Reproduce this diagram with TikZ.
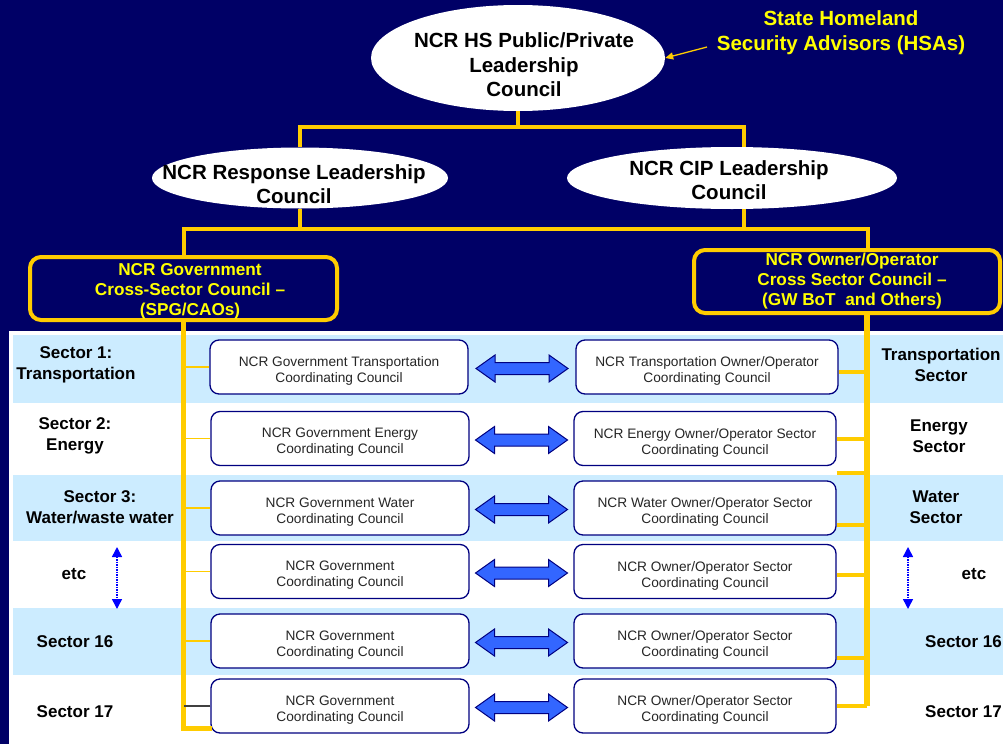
\documentclass[tikz,border=0pt]{standalone}
\usepackage{fontspec}
\setmainfont{Liberation Sans}
\usetikzlibrary{shapes.geometric,arrows.meta,calc}

\definecolor{navybg}{RGB}{0,0,102}
\definecolor{gold}{RGB}{255,204,0}
\definecolor{yell}{RGB}{255,255,0}
\definecolor{bandblue}{RGB}{204,236,255}
\definecolor{boxline}{RGB}{0,0,128}
\definecolor{arrowblue}{RGB}{51,102,255}

\tikzset{
  council/.style={ellipse, fill=white, draw=none, inner sep=0},
  counciltext/.style={align=center, inner sep=0, font=\bfseries\fontsize{20.5}{24.5}\selectfont},
  hsatext/.style={align=center, inner sep=0, text=yell, font=\bfseries\fontsize{20.5}{25}\selectfont},
  cross/.style={draw=gold, line width=4, rounded corners=11, fill=navybg, inner sep=0},
  crosstext/.style={text=yell, align=center, inner sep=0,
    font=\bfseries\fontsize{17.2}{20}\selectfont},
  cc/.style={draw=boxline, line width=1.3, fill=white, rounded corners=9,
    inner sep=0, minimum height=54},
  cctext/.style={align=center, inner sep=0, yshift=-4pt, text=black!85,
    font=\fontsize{13.7}{16}\selectfont},
  ccgov/.style={cc, minimum width=258},
  ccown/.style={cc, minimum width=262},
  sectorlbl/.style={align=center, inner sep=0, font=\bfseries\fontsize{17}{21}\selectfont},
  branch/.style={draw=gold, line width=4},
  trunk/.style={draw=gold, line width=4.5},
  rtrunk/.style={draw=gold, line width=6},
  twig/.style={draw=gold, line width=1.2},
  etcarrow/.style={draw=blue, line width=1.5, dash pattern=on 1.5pt off 1pt,
    {Triangle[length=10,width=10]}-{Triangle[length=10,width=10]}},
  dblarrow/.pic={
    \draw[boxline, line width=1, fill=arrowblue, line join=miter]
      (-46,0) -- (-27,-13.5) -- (-27,-6) -- (27,-6) -- (27,-13.5) -- (46,0)
      -- (27,13.5) -- (27,6) -- (-27,6) -- (-27,13.5) -- cycle;
  }
}

\begin{document}
\begin{tikzpicture}[x=1pt,y=-1pt]
\useasboundingbox (0,0) rectangle (1003,744);
\fill[navybg] (0,0) rectangle (1003,744);

% sector table panel and shaded bands
\fill[white] (9,331) rectangle (1003,744);
\fill[bandblue] (13,335) rectangle (1003,403);
\fill[bandblue] (13,475) rectangle (1003,541);
\fill[bandblue] (13,608) rectangle (1003,675);

% leadership councils
\node[council, minimum width=294, minimum height=106] (hs) at (518,58) {};
\node[counciltext] (hsT) at (524,65) {NCR HS Public/Private\\Leadership\\Council};
\node[council, minimum width=296, minimum height=61] (resp) at (300,178) {};
\node[counciltext] (respT) at (294,184) {NCR Response Leadership\\Council};
\node[council, minimum width=330, minimum height=62] (cip) at (732,178) {};
\node[counciltext] (cipT) at (729,180) {NCR CIP Leadership\\Council};

% advisors
\node[hsatext] (hsa) at (841,33) {State Homeland\\Security Advisors (HSAs)};
\coordinate (hsaTail) at (707,47);
\draw[gold, line width=1.3, -{Triangle[length=8,width=7]}] (hsaTail) -- (hs.east);

% cross-sector councils
\node[cross, minimum width=307, minimum height=63,
  label={[crosstext, xshift=6.5pt, yshift=-2.5pt]center:{NCR Government\\Cross-Sector Council –\\(SPG/CAOs)}}]
  (gov) at (183.5,288.5) {};
\node[cross, minimum width=306, minimum height=63,
  label={[crosstext, xshift=5pt]center:{NCR Owner/Operator\\Cross Sector Council –\\(GW BoT~ and Others)}}]
  (own) at (847,281.5) {};

% hierarchy connectors
\coordinate (topbar) at (518,127);
\coordinate (cipTop) at ($(cip.north)+(12,0)$);
\coordinate (cipBot) at ($(cip.south)+(12,0)$);
\coordinate (ownTop) at ($(own.north)+(21,0)$);
\coordinate (bar2) at (518,229);
\draw[branch] (hs.south) -- (topbar);
\draw[branch] (resp.north) |- (topbar) -| (cipTop);
\draw[branch] (resp.south) -- (resp.south |- bar2);
\draw[branch] (cipBot) -- (cipBot |- bar2);
\draw[branch] (gov.north) |- (bar2) -| (ownTop);

% sector coordinating councils
\node[ccgov, label={[cctext]center:{NCR Government Transportation\\Coordinating Council}}] (g1) at (339,367) {};
\node[ccgov, label={[cctext]center:{NCR Government Energy\\Coordinating Council}}] (g2) at (340,438.5) {};
\node[ccgov, label={[cctext]center:{NCR Government Water\\Coordinating Council}}] (g3) at (340,508) {};
\node[ccgov, label={[cctext]center:{NCR Government\\Coordinating Council}}] (g4) at (340,571.5) {};
\node[ccgov, label={[cctext]center:{NCR Government\\Coordinating Council}}] (g5) at (340,641) {};
\node[ccgov, label={[cctext]center:{NCR Government\\Coordinating Council}}] (g6) at (340,706) {};

\node[ccown, label={[cctext]center:{NCR Transportation Owner/Operator\\Coordinating Council}}] (o1) at (707,367) {};
\node[ccown, label={[cctext]center:{NCR Energy Owner/Operator Sector\\Coordinating Council}}] (o2) at (705,438.5) {};
\node[ccown, label={[cctext]center:{NCR Water Owner/Operator Sector\\Coordinating Council}}] (o3) at (705,508) {};
\node[ccown, label={[cctext]center:{NCR Owner/Operator Sector\\Coordinating Council}}] (o4) at (705,571.5) {};
\node[ccown, label={[cctext]center:{NCR Owner/Operator Sector\\Coordinating Council}}] (o5) at (705,641) {};
\node[ccown, label={[cctext]center:{NCR Owner/Operator Sector\\Coordinating Council}}] (o6) at (705,706) {};

% government side trunk
\coordinate (ltEnd) at ($(g6.south west)+(2,-5)$);
\draw[trunk] (gov.south) |- (ltEnd);
\foreach \g in {g1,g2,g3,g4,g5}
  \draw[twig] (\g.west) -- (\g.west -| gov.south);
\draw[black!75, line width=1.2] (g6.west) -- (g6.west -| gov.south);

% owner/operator side trunk
\coordinate (rt) at (867,0);
\coordinate (b1) at ($(o1.east)+(0,4.5)$);
\coordinate (b2) at (o2.east);
\coordinate (bs) at ($(o2.south east)!0.5!(o3.north east)$);
\coordinate (b3) at ($(o3.east)+(0,17)$);
\coordinate (b4) at ($(o4.east)+(0,3.5)$);
\coordinate (b5) at ($(o5.east)+(0,17)$);
\coordinate (b6) at (o6.east);
\draw[rtrunk] (own.south -| rt) -- (b6 -| rt);
\foreach \b in {b1,b2,bs,b3,b4,b5,b6}
  \draw[branch] (\b) -- (\b -| rt);

% two-way links between the paired councils
\foreach \i in {1,...,6}
  \pic at ($(g\i.east)!0.5!(o\i.west)+(0,1.5)$) {dblarrow};

% sector labels, left
\node[sectorlbl] (sl1) at (76,365)  {Sector 1:\\Transportation};
\node[sectorlbl] (sl2) at (75,436)  {Sector 2:\\Energy};
\node[sectorlbl] (sl3) at (100,507) {Sector 3:\\Water/waste water};
\node[sectorlbl] (sl4) at (74,574)  {etc};
\node[sectorlbl] (sl5) at (75,642)  {Sector 16};
\node[sectorlbl] (sl6) at (75,712)  {Sector 17};

% sector labels, right
\node[sectorlbl] (sr1) at (941,365) {Transportation\\Sector};
\node[sectorlbl] (sr2) at (939,436) {Energy\\Sector};
\node[sectorlbl] (sr3) at (936,507) {Water\\Sector};
\node[sectorlbl] (sr4) at (974,574) {etc};
\node[sectorlbl, anchor=west] (sr5) at (925,642) {Sector 16};
\node[sectorlbl, anchor=west] (sr6) at (925,712) {Sector 17};

% continuation markers
\coordinate (eL1) at (117,547);
\coordinate (eL2) at (117,609);
\coordinate (eR1) at (908,547);
\coordinate (eR2) at (908,609);
\draw[etcarrow] (eL1) -- (eL2);
\draw[etcarrow] (eR1) -- (eR2);
\end{tikzpicture}
\end{document}
